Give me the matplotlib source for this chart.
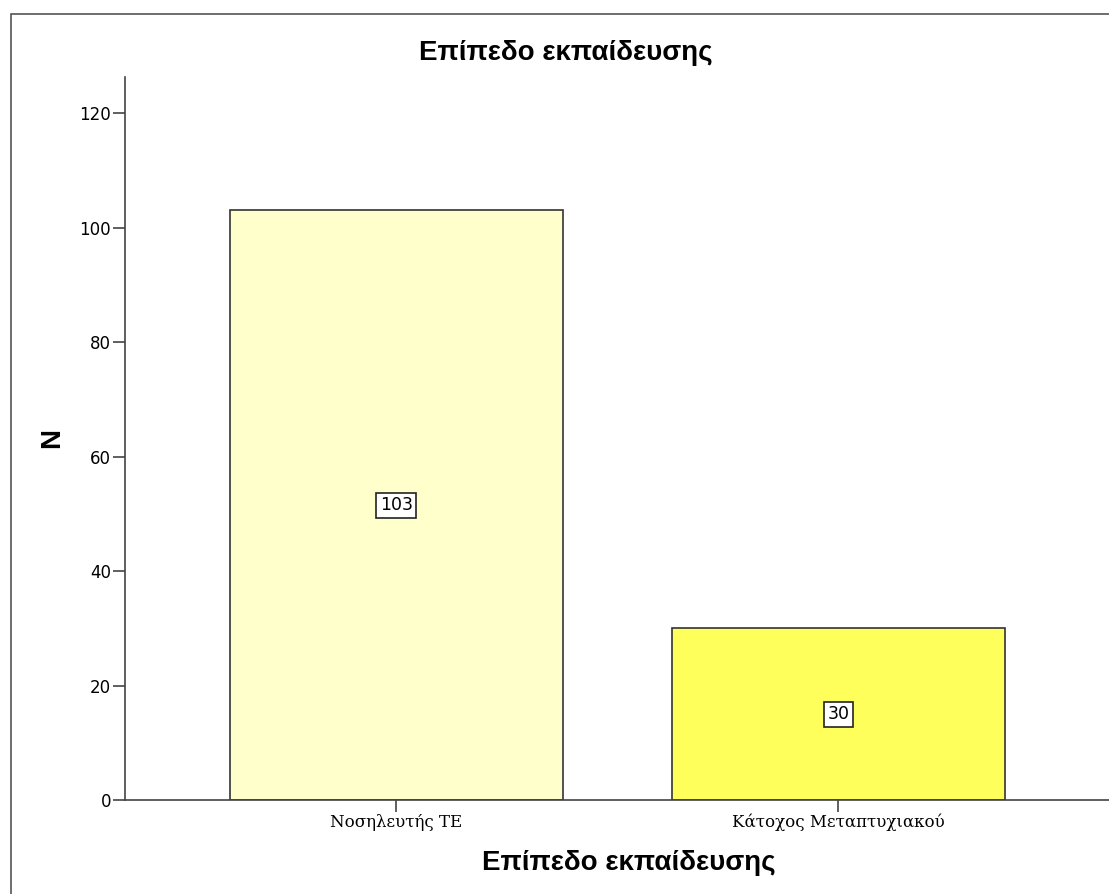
import matplotlib
matplotlib.use("Agg")
import matplotlib.pyplot as plt
from matplotlib.patches import Rectangle

categories = ["Νοσηλευτής ΤΕ", "Κάτοχος Μεταπτυχιακού"]
counts = [103, 30]
bar_colors = ["#FFFFCC", "#FFFF5C"]
yticks = [0, 20, 40, 60, 80, 100, 120]

W, H = 1109, 894
fig = plt.figure(figsize=(W / 100, H / 100), dpi=100)
fig.patch.set_facecolor("white")

# outer frame (runs off the right and bottom edges)
fig.add_artist(Rectangle((11 / W, -0.05), 1.2, (H - 14) / H + 0.05,
                         transform=fig.transFigure, fill=False,
                         edgecolor="#555555", linewidth=1.2))

ax_left, ax_right, ax_top, ax_bottom = 125, 1109, 77, 800
ax = fig.add_axes([ax_left / W, 1 - ax_bottom / H,
                   (ax_right - ax_left) / W, (ax_bottom - ax_top) / H])
ax.set_facecolor("none")

x = list(range(len(categories)))
bars = ax.bar(x, counts, width=0.753, color=bar_colors,
              edgecolor="#333333", linewidth=1.2, zorder=2)

for xi, v in zip(x, counts):
    ax.text(xi, v / 2, str(v), ha="center", va="center", fontsize=12.5,
            family="DejaVu Sans", zorder=3,
            bbox=dict(boxstyle="square,pad=0.2", facecolor="white",
                      edgecolor="#222222", linewidth=1.2))

ax.set_xlim(-0.614, 1.612)
ax.set_ylim(0, 126.3)
ax.set_yticks(yticks)
ax.set_yticklabels([str(t) for t in yticks], fontsize=12, family="DejaVu Sans")
ax.set_xticks(x)
ax.set_xticklabels(categories, fontsize=12, family="DejaVu Serif")

for s in ["top", "right"]:
    ax.spines[s].set_visible(False)
for s in ["left", "bottom"]:
    ax.spines[s].set_color("#444444")
    ax.spines[s].set_linewidth(1.2)
ax.tick_params(axis="both", length=8.5, width=1.2, color="#444444", pad=1.5)

fig.text(566 / W, 1 - 53 / H, "Επίπεδο εκπαίδευσης", ha="center", va="center",
         fontsize=20, fontweight="bold", family="Liberation Sans")
fig.text(629 / W, 1 - 863 / H, "Επίπεδο εκπαίδευσης", ha="center", va="center",
         fontsize=20, fontweight="bold", family="Liberation Sans")
fig.text(52 / W, 1 - 438 / H, "N", ha="center", va="center", rotation=90,
         fontsize=20, fontweight="bold", family="Liberation Sans")

fig.savefig("out.png", dpi=100)
